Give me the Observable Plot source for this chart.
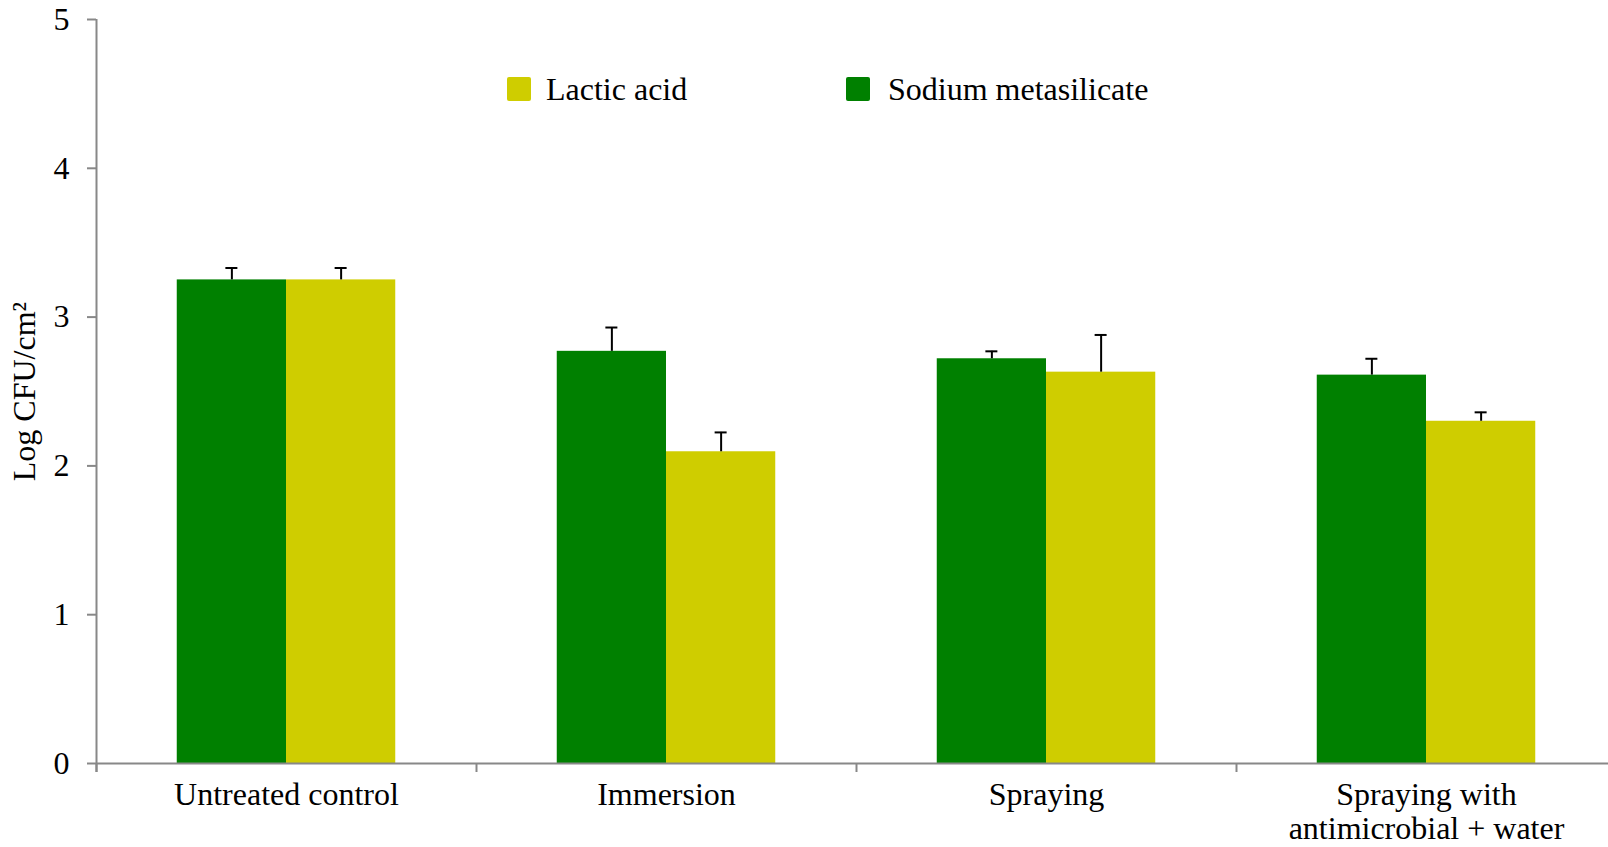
<!DOCTYPE html>
<html><head><meta charset="utf-8">
<script src="https://cdn.jsdelivr.net/npm/d3@7"></script>
<script src="https://cdn.jsdelivr.net/npm/@observablehq/plot@0.6"></script>
<style>
html,body{margin:0;padding:0;background:#fff;overflow:hidden;}
#wrap{position:relative;width:1608px;height:847px;font-family:"Liberation Serif","Times New Roman",serif;}
.sw{position:absolute;width:24px;height:24px;border-radius:2px;}
.lt{position:absolute;font-size:32px;line-height:32px;color:#000;white-space:nowrap;}
</style></head><body><div id="wrap"></div>
<script>
const categories = ["Untreated control", "Immersion", "Spraying", "Spraying with\nantimicrobial + water"];
const seriesNames = ["Sodium metasilicate", "Lactic acid"];
const seriesColors = ["#008000", "#cfcd00"];
const sodiumMeans = [3.25, 2.77, 2.72, 2.61];
const sodiumErrors = [0.08, 0.16, 0.05, 0.11];
const lacticMeans = [3.25, 2.095, 2.63, 2.30];
const lacticErrors = [0.08, 0.13, 0.25, 0.06];
const yTicks = [0, 1, 2, 3, 4, 5];
const legendOrder = ["Lactic acid", "Sodium metasilicate"];

const groupPad = 0.2125; // empty share of each category slot on each side
const rows = [];
categories.forEach((c, i) => {
  rows.push({cat: c, i, series: seriesNames[0], value: sodiumMeans[i], err: sodiumErrors[i], x1: i + groupPad, x2: i + 0.5});
  rows.push({cat: c, i, series: seriesNames[1], value: lacticMeans[i], err: lacticErrors[i], x1: i + 0.5, x2: i + 1 - groupPad});
});
const mid = d => (d.x1 + d.x2) / 2;

const font = '"Liberation Serif","Times New Roman",serif';
const gray = "#888888";
const chart = Plot.plot({
  width: 1608, height: 847,
  marginLeft: 96, marginRight: -8, marginTop: 19, marginBottom: 84,
  style: {fontFamily: font, fontSize: "32px", color: "#000", background: "#fff", overflow: "visible"},
  x: {domain: [0, categories.length]},
  y: {domain: [0, 5]},
  color: {domain: seriesNames, range: seriesColors},
  marks: [
    Plot.rectY(rows, {x1: "x1", x2: "x2", y1: 0, y2: "value", fill: "series"}),
    Plot.ruleX(rows, {x: mid, y1: "value", y2: d => d.value + d.err, stroke: "#000", strokeWidth: 2}),
    Plot.ruleY(rows, {x1: mid, x2: mid, y: d => d.value + d.err, insetLeft: -6, insetRight: -6, stroke: "#000", strokeWidth: 2}),
    Plot.ruleY([0], {stroke: gray, strokeWidth: 2}),
    Plot.ruleX([0], {stroke: gray, strokeWidth: 2, insetBottom: -9}),
    Plot.axisY({ticks: yTicks, tickSize: 9, tickPadding: 18, tickFormat: d => String(d), stroke: gray, strokeWidth: 2, fontSize: 32,
      label: "Log CFU/cm²", labelAnchor: "center", labelArrow: "none", labelOffset: 84}),
    Plot.axisX({ticks: [0, 1, 2, 3], tickSize: 9, tickFormat: () => "", stroke: gray, strokeWidth: 2, label: null}),
    Plot.axisX({ticks: categories.map((c, i) => i + 0.5), tickSize: 0, tickPadding: 18,
      tickFormat: d => categories[Math.floor(d)], lineHeight: 1.045, fontSize: 32, label: null})
  ]
});
const wrap = document.getElementById("wrap");
wrap.appendChild(chart);

// legend overlay
const legendPos = [{sx: 507, tx: 546}, {sx: 846, tx: 888}];
legendOrder.forEach((name, k) => {
  const sw = document.createElement("div");
  sw.className = "sw";
  sw.style.left = legendPos[k].sx + "px";
  sw.style.top = "77px";
  sw.style.background = seriesColors[seriesNames.indexOf(name)];
  wrap.appendChild(sw);
  const t = document.createElement("div");
  t.className = "lt";
  t.style.left = legendPos[k].tx + "px";
  t.style.top = "73px";
  t.textContent = name;
  wrap.appendChild(t);
});
</script></body></html>
